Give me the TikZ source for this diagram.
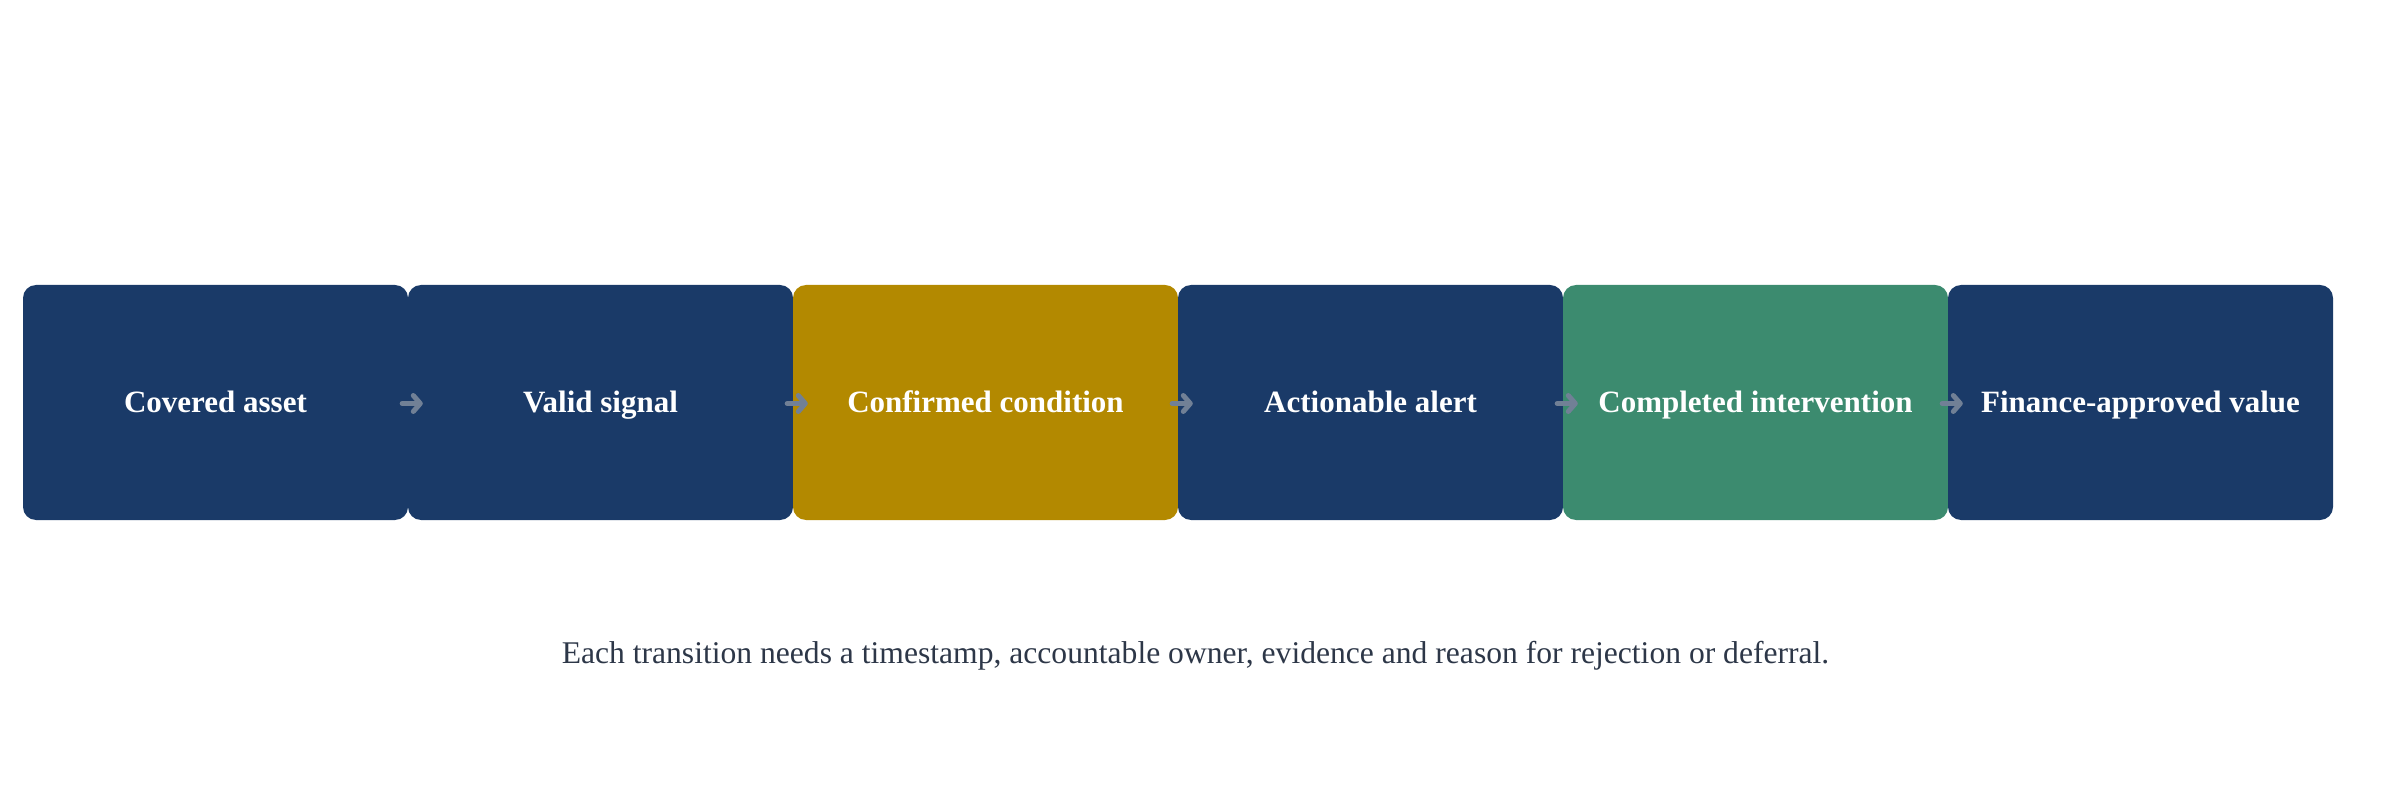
\documentclass[tikz,border=0pt]{standalone}
\usepackage{fontspec}
\setmainfont{Liberation Serif}
\usetikzlibrary{arrows.meta}
\definecolor{navy}{RGB}{26,58,104}
\definecolor{gold}{RGB}{179,137,0}
\definecolor{teal}{RGB}{60,139,111}
\definecolor{arrowgray}{RGB}{113,128,150}
\definecolor{captiongray}{RGB}{45,55,72}
\tikzset{
  stage/.style={rectangle, rounded corners=13pt, minimum width=385pt, minimum height=235pt,
    inner sep=0pt, text=white, text height=22pt, text depth=1pt,
    font=\fontsize{31}{37}\selectfont\bfseries},
  arr/.style={draw=arrowgray, line width=5pt, line cap=round,
    -{Straight Barb[length=7pt,width=16pt,line cap=round,line join=round]}},
  caption/.style={text=captiongray, font=\fontsize{31.6}{38}\selectfont, inner sep=0pt}
}
\begin{document}
\begin{tikzpicture}[x=1pt,y=1pt]
\useasboundingbox (0,0) rectangle (2391,807);
\node[stage, fill=navy] (b1) at (215.5,404.5) {Covered asset};
\node[stage, fill=navy] (b2) at (600.5,404.5) {Valid signal};
\node[stage, fill=gold] (b3) at (985.5,404.5) {Confirmed condition};
\node[stage, fill=navy] (b4) at (1370.5,404.5) {Actionable alert};
\node[stage, fill=teal] (b5) at (1755.5,404.5) {Completed intervention};
\node[stage, fill=navy] (b6) at (2140.5,404.5) {Finance-approved value};
\foreach \a/\b in {b1/b2,b2/b3,b3/b4,b4/b5,b5/b6}
  \draw[arr] ([xshift=-6pt,yshift=-1pt]\a.east) -- ([xshift=15pt,yshift=-1pt]\b.west);
\node[caption, anchor=base] (cap) at (1195.5,143.5) {Each transition needs a timestamp, accountable owner, evidence and reason for rejection or deferral.};
\end{tikzpicture}
\end{document}
